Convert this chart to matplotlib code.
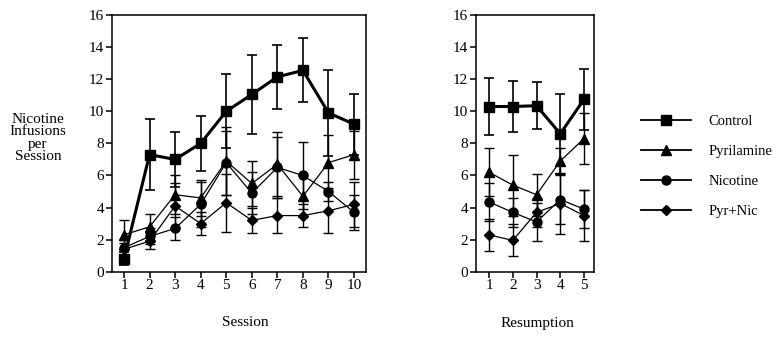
import numpy as np
import matplotlib
matplotlib.use("Agg")
import matplotlib.pyplot as plt
from matplotlib.lines import Line2D

plt.rcParams['font.family'] = ['Liberation Serif', 'DejaVu Serif']

# session data (1-10)
sessions = [1, 2, 3, 4, 5, 6, 7, 8, 9, 10]
control = [0.8, 7.3, 7.0, 8.0, 10.0, 11.05, 12.15, 12.55, 9.9, 9.2]
control_err = [0.4, 2.2, 1.7, 1.7, 2.3, 2.45, 2.0, 2.0, 2.7, 1.9]
pyril = [2.3, 2.8, 4.8, 4.6, 6.9, 5.5, 6.7, 4.7, 6.8, 7.3]
pyril_err = [0.9, 0.8, 1.2, 1.1, 2.1, 1.4, 2.0, 1.3, 1.7, 1.5]
nicot = [1.5, 2.2, 2.7, 4.2, 6.8, 4.9, 6.5, 6.0, 5.0, 3.7]
nicot_err = [0.5, 0.5, 0.7, 1.4, 2.0, 1.3, 1.9, 2.1, 0.6, 1.1]
pyrnic = [1.4, 1.9, 4.1, 3.0, 4.3, 3.2, 3.5, 3.5, 3.8, 4.2]
pyrnic_err = [0.4, 0.5, 1.4, 0.7, 1.8, 0.8, 1.1, 0.7, 1.4, 1.4]

# resumption data (1-5)
resump = [1, 2, 3, 4, 5]
r_control = [10.3, 10.3, 10.35, 8.6, 10.75]
r_control_err = [1.75, 1.6, 1.45, 2.5, 1.9]
r_pyril = [6.2, 5.4, 4.8, 6.9, 8.3]
r_pyril_err = [1.5, 1.9, 1.3, 0.8, 1.6]
r_nicot = [4.35, 3.7, 3.1, 4.5, 3.9]
r_nicot_err = [1.2, 0.9, 1.2, 1.5, 1.2]
r_pyrnic = [2.3, 1.95, 3.7, 4.25, 3.5]
r_pyrnic_err = [1.0, 1.0, 0.9, 1.9, 1.6]

labels = ['Control', 'Pyrilamine', 'Nicotine', 'Pyr+Nic']
markers = ['s', '^', 'o', 'D']
msizes = [7, 7.5, 6.5, 5.5]
lws = [2.2, 0.9, 0.9, 0.9]

fig = plt.figure(figsize=(7.78, 3.39), dpi=100)
ax1 = fig.add_axes([0.1436, 0.1985, 0.3269, 0.757])
ax2 = fig.add_axes([0.6118, 0.1985, 0.1517, 0.757])

def draw(ax, x, series):
    # thin series first, control on top
    for i in [3, 2, 1, 0]:
        y, e = series[i]
        ax.errorbar(x, y, yerr=e, color='black', marker=markers[i],
                    markersize=msizes[i], lw=lws[i], elinewidth=1.2 if i == 0 else 1.0,
                    capsize=3.6, capthick=1.2 if i == 0 else 1.0, zorder=3 + (3 - i))

draw(ax1, sessions, [(control, control_err), (pyril, pyril_err),
                     (nicot, nicot_err), (pyrnic, pyrnic_err)])
draw(ax2, resump, [(r_control, r_control_err), (r_pyril, r_pyril_err),
                   (r_nicot, r_nicot_err), (r_pyrnic, r_pyrnic_err)])

ax1.set_xlim(0.52, 10.47)
ax2.set_xlim(0.45, 5.42)
for ax in (ax1, ax2):
    ax.set_ylim(0, 16)
    ax.set_yticks(range(0, 17, 2))
    for s in ax.spines.values():
        s.set_linewidth(1.1)
    ax.tick_params(direction='out', length=4, width=1.1, labelsize=11, pad=1.5)
ax1.set_xticks(sessions)
ax2.set_xticks(resump)

fig.text(245 / 778, 1 - 322 / 339, 'Session', ha='center', va='center', fontsize=11)
fig.text(537 / 778, 1 - 323 / 339, 'Resumption', ha='center', va='center', fontsize=11)
fig.text(38 / 778, 1 - 138 / 339, 'Nicotine\nInfusions\nper\nSession', ha='center',
         va='center', fontsize=11, linespacing=0.95)

handles = [Line2D([], [], color='black', lw=1.3, marker=m, markersize=ms)
           for m, ms in zip(markers, msizes)]
fig.legend(handles, labels, loc='upper left', bbox_to_anchor=(628 / 778, 1 - 102 / 339),
           frameon=False, fontsize=10.5, handlelength=3.4, handletextpad=1.2,
           labelspacing=1.15)

fig.savefig('out.png', dpi=100)
